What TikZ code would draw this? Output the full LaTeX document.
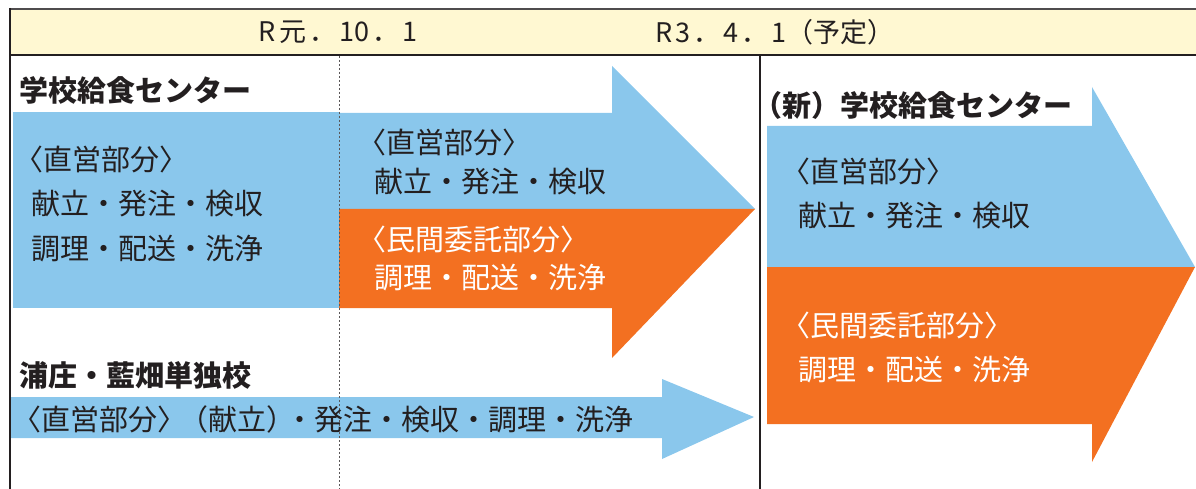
\documentclass[tikz,border=0pt]{standalone}
\usepackage{fontspec}
\setmainfont{Noto Sans CJK JP}
\definecolor{skyb}{HTML}{8AC7EC}
\definecolor{orng}{HTML}{F37021}
\definecolor{hdry}{HTML}{FFF8D2}
\definecolor{ink}{HTML}{231F20}
\newcommand\lbk{\kern-0.5em〈}
\newcommand\rbk{〉\kern-0.45em}
\newcommand\lpk{\kern-0.5em（}
\newcommand\hk{\kern3pt}
\begin{document}
\begin{tikzpicture}[x=1pt,y=-1pt,
  lbl/.style={anchor=west,inner sep=0pt,font=\fontsize{29}{29}\selectfont,text=ink},
  wlbl/.style={lbl,text=white},
  ttl/.style={lbl,font=\fontsize{29}{29}\selectfont\bfseries},
  hdrtxt/.style={inner sep=0pt,font=\fontsize{27}{27}\selectfont,text=ink}]
\useasboundingbox (0,0) rectangle (1196,489);
% header band
\fill[hdry] (9,9) rectangle (1196,55);
\draw[line width=1.5pt, draw=ink!80] (9,9) -- (1196,9);
\draw[line width=2pt, ink] (9,55) -- (1196,55);
\draw[line width=2pt, ink] (10,8) -- (10,489);
\draw[line width=2pt, ink] (760,55) -- (760,489);
% arrows
\fill[skyb] (13,112) rectangle (339,308);
\fill[skyb] (339,113) -- (612,113) -- (612,66) -- (755,209) -- (339,209) -- cycle;
\fill[orng] (339,209) -- (755,209) -- (612,358) -- (612,308) -- (339,308) -- cycle;
\fill[skyb] (11,397) -- (662,397) -- (662,379) -- (754,417) -- (662,459) -- (662,438) -- (11,438) -- cycle;
\fill[skyb] (767,126) -- (1092,126) -- (1092,87) -- (1195,267) -- (767,267) -- cycle;
\fill[orng] (767,267) -- (1195,267) -- (1092,462) -- (1092,424) -- (767,424) -- cycle;
% dashed date line
\draw[ink!75, line width=0.8pt, dash pattern=on 2pt off 2pt] (339,56) -- (339,489);
% header texts
\node[hdrtxt] (d1) at (338,32) {R\hk 元\hk ．\hk 10\hk ．\hk 1};
\node[hdrtxt] (d2) at (775,32) {R\hk 3\hk ．\hk 4\hk ．\hk 1（予定）};
% left block
\node[ttl] (t1) at (19,90) {学校給食センター};
\node[lbl] (a1) at (29,159) {\lbk 直営部分\rbk};
\node[lbl] (a2) at (31,204) {献立・発注・検収};
\node[lbl] (a3) at (31,249) {調理・配送・洗浄};
% middle
\node[lbl] (b1) at (372,142) {\lbk 直営部分\rbk};
\node[lbl] (b2) at (374,182) {献立・発注・検収};
\node[wlbl] (b3) at (372,239) {\lbk 民間委託部分\rbk};
\node[wlbl] (b4) at (374,278) {調理・配送・洗浄};
% single schools
\node[ttl] (t2) at (19,375) {浦庄・藍畑単独校};
\node[lbl] (c1) at (27,419) {\lbk 直営部分〉\kern-0.25em（献立）\kern-0.35em・発注・検収・調理・洗浄};
% new center
\node[ttl] (t3) at (768,105) {\lpk 新）学校給食センター};
\node[lbl] (e1) at (796,171) {\lbk 直営部分\rbk};
\node[lbl] (e2) at (798,216) {献立・発注・検収};
\node[wlbl] (e3) at (796,325) {\lbk 民間委託部分\rbk};
\node[wlbl] (e4) at (798,370) {調理・配送・洗浄};
\end{tikzpicture}
\end{document}
